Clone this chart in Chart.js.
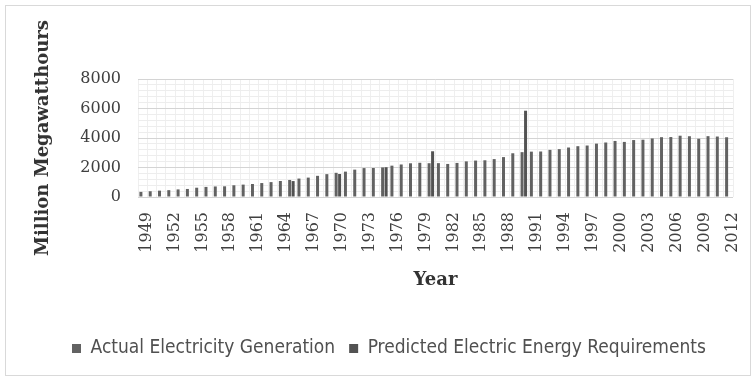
<!DOCTYPE html>
<html>
<head>
<meta charset="utf-8">
<script src="https://cdn.jsdelivr.net/npm/chart.js@4.4.0/dist/chart.umd.min.js"></script>
<style>
  html, body { margin: 0; padding: 0; background: #fff; }
  #wrap { position: relative; width: 756px; height: 381px; }
  #frame { position: absolute; left: 5px; top: 5px; width: 744px; height: 369px; border: 1px solid #d9d9d9; }
  canvas { position: absolute; left: 0; top: 0; }
</style>
</head>
<body>
<div id="wrap">
  <div id="frame"></div>
  <canvas id="chart" width="756" height="381"></canvas>
</div>
<script>
const years = [
  "1949","1950","1951","1952","1953","1954","1955","1956","1957","1958",
  "1959","1960","1961","1962","1963","1964","1965","1966","1967","1968",
  "1969","1970","1971","1972","1973","1974","1975","1976","1977","1978",
  "1979","1980","1981","1982","1983","1984","1985","1986","1987","1988",
  "1989","1990","1991","1992","1993","1994","1995","1996","1997","1998",
  "1999","2000","2001","2002","2003","2004","2005","2006","2007","2008",
  "2009","2010","2011","2012"
];

// million megawatthours
const actual = [
  345, 390, 430, 465, 515, 545, 630, 685, 715, 725,
  795, 840, 880, 945, 1010, 1085, 1155, 1250, 1315, 1435,
  1550, 1640, 1720, 1855, 1960, 1965, 2005, 2125, 2205, 2285,
  2320, 2290, 2295, 2240, 2310, 2415, 2470, 2490, 2570, 2705,
  2965, 3040, 3075, 3085, 3195, 3245, 3355, 3445, 3490, 3620,
  3695, 3800, 3735, 3860, 3885, 3970, 4055, 4065, 4155, 4120,
  3950, 4125, 4100, 4050
];

// forecast points only exist for a handful of years
const predicted = [
  null, null, null, null, null, null, null, null, null, null,
  null, null, null, null, null, null, 1080, null, null, null,
  null, 1560, null, null, null, null, 2020, null, null, null,
  null, 3100, null, null, null, null, null, null, null, null,
  null, 5850, null, null, null, null, null, null, null, null,
  null, null, null, null, null, null, null, null, null, null,
  null, null, null, null
];

const yTicks = [0, 2000, 4000, 6000, 8000];

const serif = "'DejaVu Serif', 'Liberation Serif', serif";

new Chart(document.getElementById("chart"), {
  type: "bar",
  data: {
    labels: years,
    datasets: [
      {
        label: "Actual Electricity Generation",
        data: actual,
        backgroundColor: "#626262",
        barPercentage: 0.86,
        categoryPercentage: 0.75
      },
      {
        label: "Predicted Electric Energy Requirements",
        data: predicted,
        backgroundColor: "#525252",
        barPercentage: 0.86,
        categoryPercentage: 0.75
      }
    ]
  },
  options: {
    responsive: false,
    animation: false,
    layout: { padding: { left: 45, right: 23, top: 79, bottom: 13 } },
    plugins: {
      tooltip: { enabled: false },
      legend: {
        position: "bottom",
        labels: {
          boxWidth: 9,
          boxHeight: 9,
          padding: 14,
          color: "#505050",
          font: { family: "'Liberation Sans Narrow', 'DejaVu Sans Condensed', sans-serif", size: 19 }
        }
      }
    },
    scales: {
      x: {
        grid: { color: "#efefef", drawTicks: false, offset: true },
        border: { display: false },
        ticks: {
          autoSkip: false,
          minRotation: 90,
          maxRotation: 90,
          padding: 15,
          labelOffset: 4,
          color: "#404040",
          font: { family: serif, size: 16 },
          callback: (v, i) => (i % 3 === 0 ? years[i] : "")
        },
        title: {
          display: true,
          text: "Year",
          color: "#333",
          font: { family: serif, size: 18, weight: "bold" },
          padding: { top: 0, bottom: 34.2 }
        },
        afterFit: s => {
          s.height = 128;
          s.paddingLeft = 0;
          s.paddingRight = 0;
        }
      },
      y: {
        min: 0,
        max: yTicks[yTicks.length - 1],
        ticks: {
          stepSize: 400,
          autoSkip: false,
          padding: 17,
          color: "#404040",
          font: { family: serif, size: 16 },
          callback: v => (yTicks.includes(v) ? v : "")
        },
        grid: {
          drawTicks: false,
          color: c => (yTicks.includes(c.tick.value) ? "#d4d4d4" : "#ededed")
        },
        border: { display: false },
        title: {
          display: true,
          text: "Million Megawatthours",
          color: "#333",
          font: { family: serif, size: 18, weight: "bold" },
          padding: { top: -12.8, bottom: 0 }
        },
        afterFit: s => { s.width = 93; }
      }
    }
  }
});
</script>
</body>
</html>
